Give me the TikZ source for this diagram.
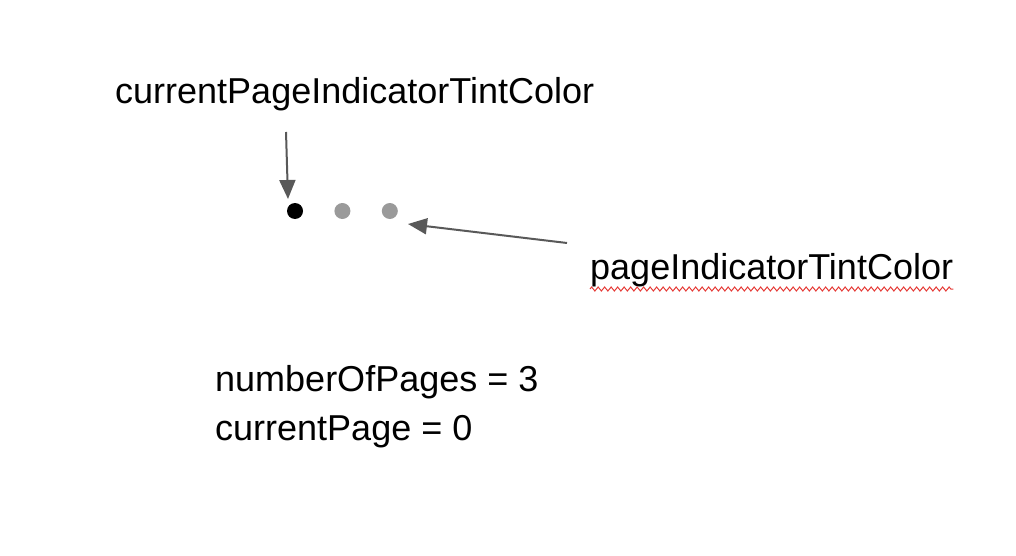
\documentclass[tikz,border=0pt]{standalone}
\usepackage{fontspec}
\setmainfont{Liberation Sans}
\usetikzlibrary{arrows.meta,positioning,decorations.pathmorphing}
\definecolor{arrowgrey}{HTML}{595959}
\definecolor{dotgrey}{HTML}{9A9A9A}
\definecolor{spellred}{HTML}{E53935}

\begin{document}
\begin{tikzpicture}[
        x=1pt, y=-1pt,
        lbl/.style={anchor=base west, inner sep=0pt, font=\fontsize{36}{43}\selectfont},
        dot/.style={circle, inner sep=0pt, minimum size=16pt},
        arr/.style={draw=arrowgrey, line width=2pt, -{Triangle[length=19pt,width=16pt]}},
        wavy/.style={draw=spellred, line width=1pt, decorate,
            decoration={zigzag, segment length=6.5pt, amplitude=2pt}}
    ]

    \tikzset{
        node distance=31pt,
    }

    \useasboundingbox (0,0) rectangle (1016,556);

    \node[lbl] (current) at (115,104) {currentPageIndicatorTintColor};
    \node[lbl] (other) at (590,279) {pageIndicatorTintColor};
    \node[lbl] (pages) at (215,391) {numberOfPages = 3};
    \node[lbl] (page) at (215,440) {currentPage = 0};

    \node[dot,fill=black] (dot1) at (295,211) {};
    \node[dot,fill=dotgrey,right=of dot1] (dot2) {};
    \node[dot,fill=dotgrey,right=of dot2] (dot3) {};

    \coordinate (curtail) at (286,132);
    \coordinate (curtip) at (288,199);
    \coordinate (othtail) at (567,243);
    \coordinate (othtip) at (408,224);

    \draw[arr] (curtail) -- (curtip);
    \draw[arr] (othtail) -- (othtip);

    % spell check mark
    \draw[wavy] (other.base west) ++(0,10) -- ([yshift=-10pt]other.base east);

\end{tikzpicture}
\end{document}
